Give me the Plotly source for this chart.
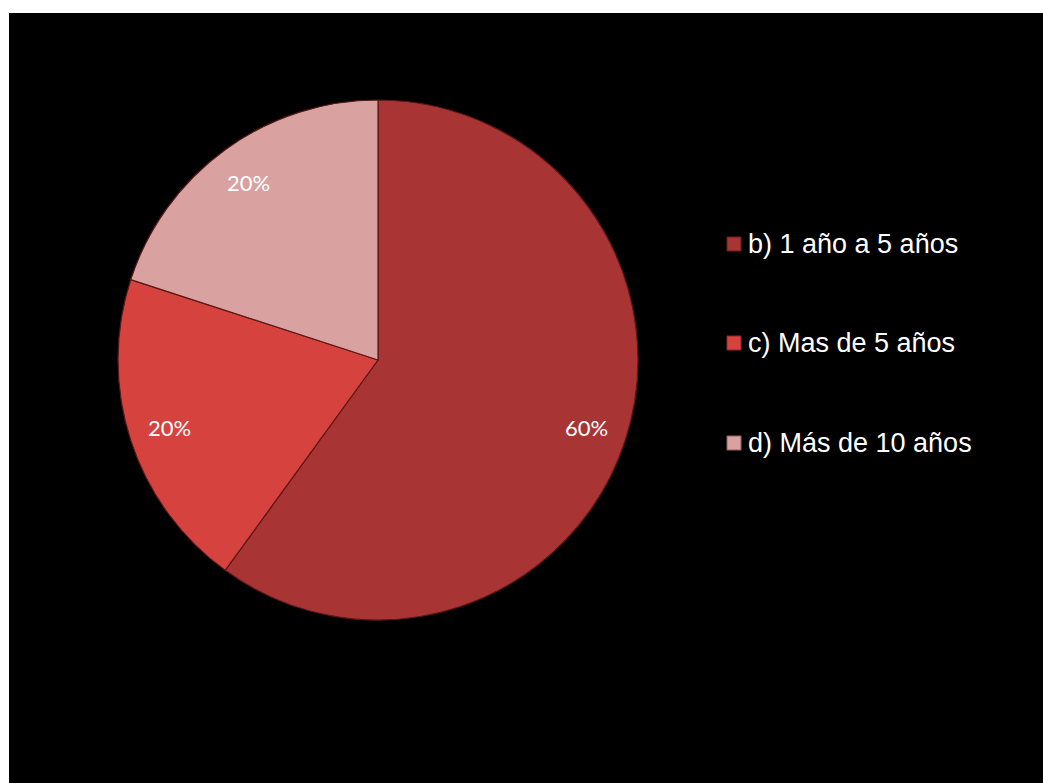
import math
import plotly.graph_objects as go

# Survey answers: time range and share of respondents
categories = ["b) 1 año a 5 años", "c) Mas de 5 años", "d) Más de 10 años"]
shares = [60, 20, 20]
slice_colors = ["#A83433", "#D6433F", "#D9A1A0"]
edge_colors = ["#6E1F1E", "#8E2A28", "#8E6363"]

W, H = 1043, 783
cx_px, cy_px, r_px = 378, 360, 260

dom_x = [(cx_px - r_px) / W, (cx_px + r_px) / W]
dom_y = [(H - cy_px - r_px) / H, (H - cy_px + r_px) / H]

fig = go.Figure()
fig.add_trace(go.Pie(
    labels=categories,
    values=shares,
    sort=False,
    direction="clockwise",
    rotation=0,
    marker=dict(colors=slice_colors, line=dict(color="#5A1716", width=1.2)),
    textinfo="none",
    hoverinfo="label+percent",
    showlegend=False,
    domain=dict(x=dom_x, y=dom_y),
))

annotations = []
# Percentage labels placed along each slice's mid-angle
total = sum(shares)
cum = 0
for cat, v in zip(categories, shares):
    mid = (cum + v / 2) / total * 2 * math.pi
    cum += v
    rr = 0.845 * r_px
    px = cx_px + rr * math.sin(mid)
    py = cy_px - rr * math.cos(mid)
    annotations.append(dict(
        x=px / W, y=1 - py / H, xref="paper", yref="paper",
        text=f"{round(v / total * 100)}%", showarrow=False,
        font=dict(family="Lato, Open Sans, sans-serif", size=22, color="white"),
        xanchor="center", yanchor="middle",
    ))

# Legend entries on the right
shapes = [dict(type="rect", xref="paper", yref="paper",
               x0=9 / W, x1=1, y0=0, y1=1 - 13 / H,
               fillcolor="black", line=dict(width=0), layer="below")]
legend_y = [244, 343, 443]
for cat, col, ec, ly in zip(categories, slice_colors, edge_colors, legend_y):
    shapes.append(dict(type="rect", xref="paper", yref="paper",
                       x0=727 / W, x1=741 / W,
                       y0=1 - (ly + 7) / H, y1=1 - (ly - 7) / H,
                       fillcolor=col, line=dict(color=ec, width=1)))
    annotations.append(dict(
        x=746 / W, y=1 - ly / H, xref="paper", yref="paper",
        text=cat, showarrow=False, xanchor="left", yanchor="middle",
        font=dict(family="Liberation Sans, Arial, sans-serif", size=27, color="white"),
    ))

fig.update_layout(
    width=W, height=H,
    margin=dict(l=0, r=0, t=0, b=0),
    paper_bgcolor="white",
    plot_bgcolor="black",
    shapes=shapes,
    annotations=annotations,
)

fig.write_html("out.html")
